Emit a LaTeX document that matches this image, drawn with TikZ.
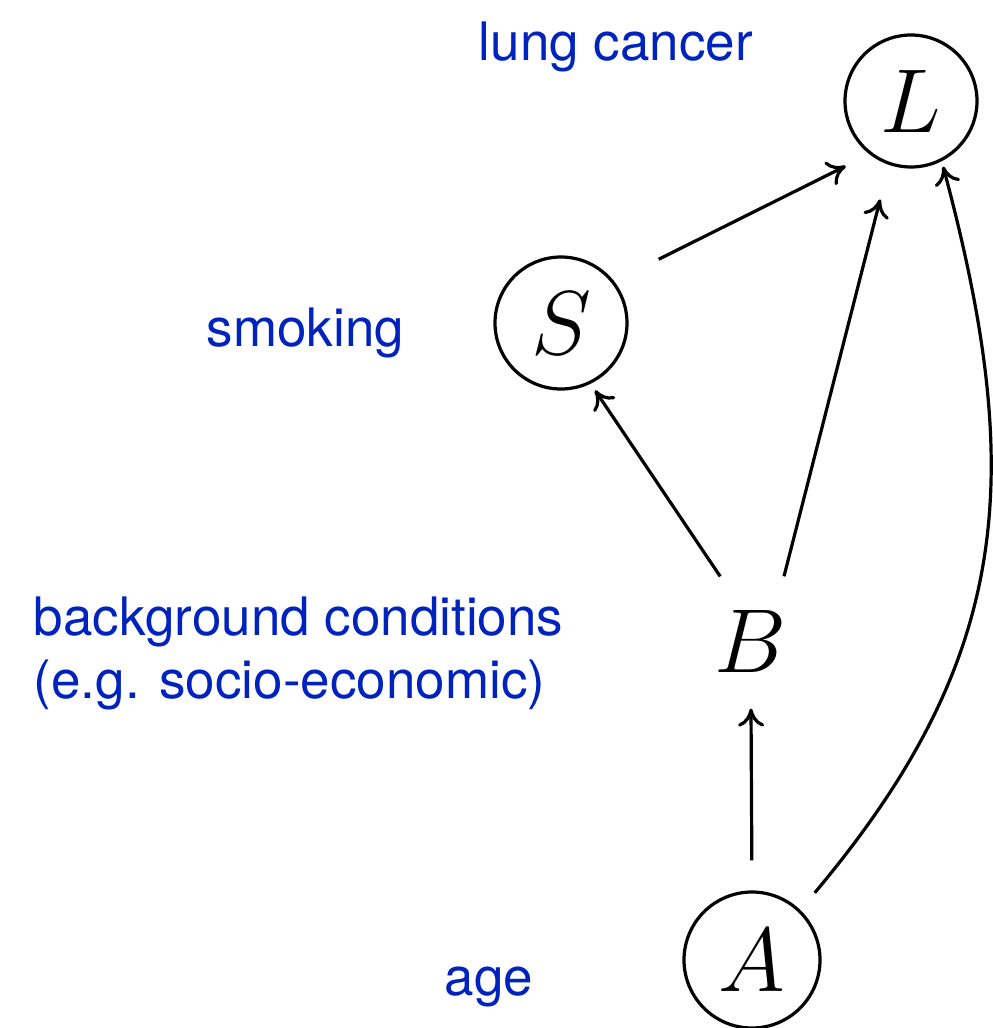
\RequirePackage{fix-cm}
\documentclass[tikz,border=0pt]{standalone}
\usepackage{fontspec}
\setsansfont{TeX Gyre Heros}
\definecolor{dag_blue}{RGB}{0, 35, 190}
\usetikzlibrary{arrows.meta}

\begin{document}
\begin{tikzpicture}[x=0.25pt, y=0.25pt,
      var/.style={circle, draw, line width=0.8pt, minimum size=33pt,
                  inner sep=0pt, font=\fontsize{22.7}{27}\selectfont},
      hid/.style={var, draw=none},
      lbl/.style={anchor=base west, align=left, inner sep=0pt, text=dag_blue,
                  font=\sffamily\fontsize{13.25}{15.75}\selectfont},
      arr/.style={-{Computer Modern Rightarrow[length=4.5pt, width=6.5pt]},
                  line width=0.8pt}]
      \useasboundingbox (0,0) rectangle (993,-1028);
      % Variables
      \node[var] (L) at (911,-101) {$L$};
      \node[var] (S) at (561,-323) {$S$};
      \node[hid] (B) at (751,-641) {$B$};
      \node[var, minimum size=34pt] (A) at (752,-960) {$A$};
      % Labels
      \node[lbl] (lL) at (478,-60) {lung cancer};
      \node[lbl] (lS) at (206,-346) {smoking};
      \node[lbl] (lB) at (33,-698)
        {background conditions\\(e.g. socio-economic)};
      \node[lbl] (lA) at (444,-995) {age};
      % Edges
      \draw[arr, shorten <=1pt, shorten >=2pt] (B.115) -- (S.296);
      \draw[arr, shorten <=1.3pt, shorten >=8.9pt] (B.62) -- (L.251);
      \draw[arr, shorten <=12.4pt, shorten >=6.6pt] (S.38) -- (L.232);
      \draw[arr, shorten <=7.5pt] (A.90) -- (B.270);
      \draw[arr, shorten <=5.6pt, shorten >=1.4pt]
        (A.46) .. controls +(50:82pt) and +(-75:82pt) .. (L.297);
\end{tikzpicture}
\end{document}
